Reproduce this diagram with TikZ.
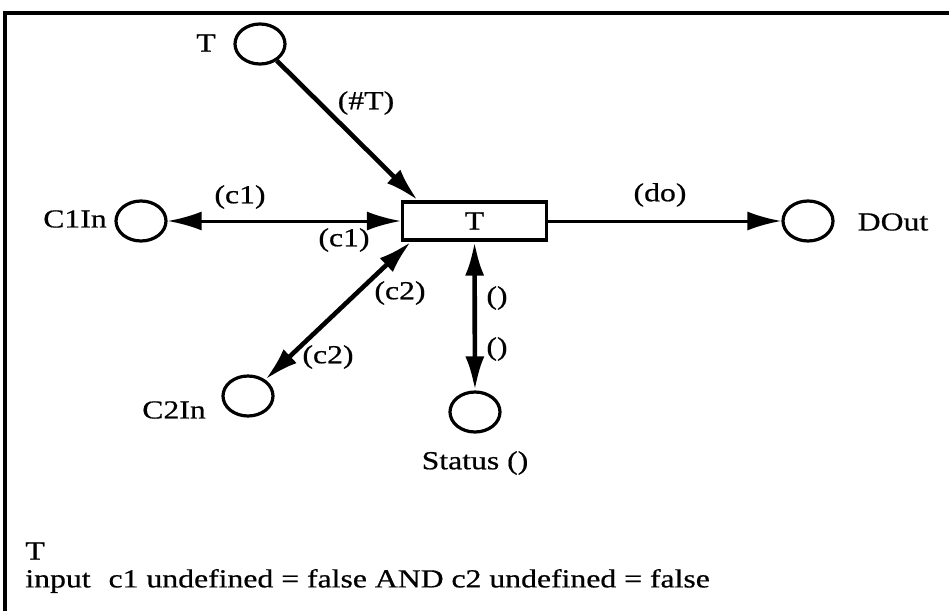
\documentclass[tikz,border=0pt]{standalone}
\usepackage{fontspec}
\setmainfont{Liberation Serif}[FakeStretch=1.22,FakeBold=0.6]
\usetikzlibrary{arrows.meta,shapes.geometric}
\begin{document}
\begin{tikzpicture}[x=0.5pt,y=-0.5pt,font=\fontsize{13pt}{15pt}\selectfont,
  place/.style={draw,ellipse,line width=1.6pt,minimum width=25pt,minimum height=20pt,inner sep=0pt},
  trans/.style={draw,rectangle,line width=1.6pt,minimum width=72pt,minimum height=19pt,inner sep=0pt},
  arcone/.style={-{Latex[length=17pt,width=9.5pt]}},
  arctwo/.style={{Latex[length=17pt,width=9.5pt]}-{Latex[length=17pt,width=9.5pt]}},
  lbl/.style={inner sep=0pt}]
\useasboundingbox (0,0) rectangle (949,611);
\draw[line width=1.6pt] (5,611)--(5,13)--(949,13);
\node[trans] (t) at (474.5,221) {T};
\node[place] (tin) at (260,44) {};
\node[place] (c1in) at (141,221) {};
\node[place] (c2in) at (248,396) {};
\node[place] (status) at (475,412) {};
\node[place] (dout) at (808,221) {};
\node[lbl] (ltin) at (206,43) {T};
\node[lbl] (lc1in) at (75,219) {C1In};
\node[lbl] (lc2in) at (174,410) {C2In};
\node[lbl] (lstatus) at (475,463) {Status ()};
\node[lbl] (ldout) at (893,222) {DOut};
\draw[arcone,line width=2.3pt] (tin) -- (t.160);
\draw[arctwo,line width=1.5pt] (c1in) -- (t);
\draw[arctwo,line width=2.3pt] (c2in) -- (t.198);
\draw[arctwo,line width=2.3pt] (status) -- (t);
\draw[arcone,line width=1.5pt] (t) -- (dout);
\node[lbl] (lhash) at (366,103) {(\#T)};
\node[lbl] (lc1a) at (240,197) {(c1)};
\node[lbl] (lc1b) at (344,240) {(c1)};
\node[lbl] (ldo) at (660,195) {(do)};
\node[lbl] (lc2a) at (400,293) {(c2)};
\node[lbl] (lc2b) at (328,357) {(c2)};
\node[lbl] (lsa) at (497,298) {()};
\node[lbl] (lsb) at (497,349) {()};
\node[lbl,anchor=west] (guard) at (25,551) {T};
\node[lbl,anchor=west] (rule) at (25,581) {input\hspace{9pt}c1 undefined = false AND c2 undefined = false};
\end{tikzpicture}
\end{document}
